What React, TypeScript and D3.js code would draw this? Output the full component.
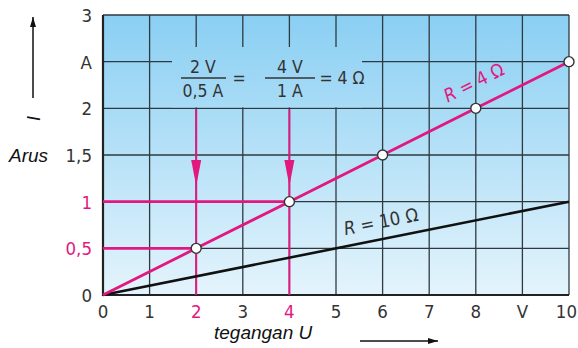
import * as d3 from "d3";
import { useRef, useEffect } from "react";

const xTicks = [0, 1, 2, 3, 4, 5, 6, 7, 8, 9, 10];
const xTickLabels = ["0", "1", "2", "3", "4", "5", "6", "7", "8", "V", "10"];
const yTicks = [0, 0.5, 1, 1.5, 2, 2.5, 3];
const yTickLabels = ["0", "0,5", "1", "1,5", "2", "A", "3"];
const pinkTicksX = [2, 4];
const pinkTicksY = [0.5, 1];

// R = 4 Ω measured points
const voltage4 = [0, 2, 4, 6, 8, 10];
const current4 = [0, 0.5, 1, 1.5, 2, 2.5];
// R = 10 Ω
const voltage10 = [0, 10];
const current10 = [0, 1];

const PINK = "#e0187f";
const GRID = "#2e3a40";
const TEXT = "#333";

export default function App() {
  const ref = useRef<SVGSVGElement>(null);

  useEffect(() => {
    const width = 578;
    const height = 348;
    const svg = d3.select(ref.current);
    svg.selectAll("*").remove();
    svg.attr("width", width).attr("height", height);

    const x = d3.scaleLinear().domain([0, 10]).range([103, 569]);
    const y = d3.scaleLinear().domain([0, 3]).range([295, 15]);

    const defs = svg.append("defs");
    const grad = defs
      .append("linearGradient")
      .attr("id", "bg")
      .attr("gradientUnits", "userSpaceOnUse")
      .attr("x1", 0)
      .attr("y1", y(3))
      .attr("x2", 0)
      .attr("y2", y(0));
    grad.append("stop").attr("offset", "0%").attr("stop-color", "#8acff3");
    grad.append("stop").attr("offset", "100%").attr("stop-color", "#e4f4fc");

    const arrow = defs
      .append("marker")
      .attr("id", "arr")
      .attr("viewBox", "0 0 10 10")
      .attr("refX", 10)
      .attr("refY", 5)
      .attr("markerWidth", 10)
      .attr("markerHeight", 10)
      .attr("markerUnits", "userSpaceOnUse")
      .attr("orient", "auto");
    arrow.append("path").attr("d", "M0,2 L10,5 L0,8 Z").attr("fill", "#111");

    const font = "'DejaVu Sans Condensed', 'DejaVu Sans', sans-serif";
    const fs = 18.5;

    svg
      .append("rect")
      .attr("x", x(0))
      .attr("y", y(3))
      .attr("width", x(10) - x(0))
      .attr("height", y(0) - y(3))
      .attr("fill", "url(#bg)");

    const grid = svg.append("g").attr("stroke", GRID).attr("stroke-width", 1.3);
    grid
      .selectAll("line.v")
      .data(xTicks.slice(1))
      .enter()
      .append("line")
      .attr("x1", (d) => x(d))
      .attr("x2", (d) => x(d))
      .attr("y1", y(3))
      .attr("y2", y(0));
    grid
      .selectAll("line.h")
      .data(yTicks.slice(1))
      .enter()
      .append("line")
      .attr("x1", x(0))
      .attr("x2", x(10))
      .attr("y1", (d) => y(d))
      .attr("y2", (d) => y(d));

    // box behind the formula hides the grid
    svg
      .append("rect")
      .attr("x", 172)
      .attr("y", 47)
      .attr("width", 190)
      .attr("height", y(2) - 47 - 1)
      .attr("fill", "url(#bg)");

    // axes
    svg
      .append("path")
      .attr("d", `M${x(0)},${y(3)} V${y(0)} H${x(10)}`)
      .attr("fill", "none")
      .attr("stroke", "#222")
      .attr("stroke-width", 2.2);

    // pink helper lines
    const pink = svg.append("g").attr("stroke", PINK).attr("stroke-width", 2.6);
    pink
      .selectAll("line.ph")
      .data(pinkTicksY)
      .enter()
      .append("line")
      .attr("x1", x(0))
      .attr("x2", (d, i) => x(pinkTicksX[i]))
      .attr("y1", (d) => y(d))
      .attr("y2", (d) => y(d));
    pink
      .selectAll("line.pv")
      .data(pinkTicksX)
      .enter()
      .append("line")
      .attr("x1", (d) => x(d))
      .attr("x2", (d) => x(d))
      .attr("y1", y(2) + 1)
      .attr("y2", y(0))
      .attr("stroke-width", 2);
    svg
      .append("g")
      .selectAll("path")
      .data(pinkTicksX)
      .enter()
      .append("path")
      .attr("d", (d) => `M${x(d) - 5},160 L${x(d) + 5},160 L${x(d)},186 Z`)
      .attr("fill", PINK);

    const line = d3
      .line<number>()
      .x((d) => x(d[0]))
      .y((d) => y(d[1]));

    svg
      .append("path")
      .datum(voltage10.map((v, i) => [v, current10[i]]))
      .attr("d", line as any)
      .attr("fill", "none")
      .attr("stroke", "#111")
      .attr("stroke-width", 2.6);

    svg
      .append("path")
      .datum(voltage4.map((v, i) => [v, current4[i]]))
      .attr("d", line as any)
      .attr("fill", "none")
      .attr("stroke", PINK)
      .attr("stroke-width", 2.8);

    svg
      .append("g")
      .selectAll("circle")
      .data(voltage4.slice(1).map((v, i) => [v, current4[i + 1]]))
      .enter()
      .append("circle")
      .attr("cx", (d) => x(d[0]))
      .attr("cy", (d) => y(d[1]))
      .attr("r", 5)
      .attr("fill", "#fff")
      .attr("stroke", "#333")
      .attr("stroke-width", 1.4);

    // tick labels
    svg
      .append("g")
      .selectAll("text")
      .data(yTicks)
      .enter()
      .append("text")
      .attr("x", 92)
      .attr("y", (d) => y(d) + 7)
      .attr("text-anchor", "end")
      .attr("font-family", font)
      .attr("font-size", fs)
      .attr("fill", (d) => (pinkTicksY.includes(d) ? PINK : TEXT))
      .text((d, i) => yTickLabels[i]);

    svg
      .append("g")
      .selectAll("text")
      .data(xTicks)
      .enter()
      .append("text")
      .attr("x", (d) => (d === 10 ? width - 1 : x(d)))
      .attr("y", 318)
      .attr("text-anchor", (d) => (d === 10 ? "end" : "middle"))
      .attr("font-family", font)
      .attr("font-size", fs)
      .attr("fill", (d) => (pinkTicksX.includes(d) ? PINK : TEXT))
      .text((d, i) => xTickLabels[i]);

    // axis titles
    const italic = "'Liberation Sans', Arial, sans-serif";
    svg
      .append("text")
      .attr("x", 9)
      .attr("y", 162)
      .attr("font-family", italic)
      .attr("font-style", "italic")
      .attr("font-size", 19)
      .attr("fill", "#111")
      .text("Arus");
    svg
      .append("text")
      .attr("x", 214)
      .attr("y", 339)
      .attr("font-family", italic)
      .attr("font-style", "italic")
      .attr("font-size", 19)
      .attr("fill", "#111")
      .text("tegangan U");
    svg
      .append("text")
      .attr("transform", "translate(40,121) rotate(-90)")
      .attr("font-family", italic)
      .attr("font-style", "italic")
      .attr("font-size", 18)
      .attr("fill", "#111")
      .text("I");

    svg
      .append("line")
      .attr("x1", 33)
      .attr("x2", 33)
      .attr("y1", 98)
      .attr("y2", 17)
      .attr("stroke", "#111")
      .attr("stroke-width", 1.5)
      .attr("marker-end", "url(#arr)");
    svg
      .append("line")
      .attr("x1", 360)
      .attr("x2", 438)
      .attr("y1", 341)
      .attr("y2", 341)
      .attr("stroke", "#111")
      .attr("stroke-width", 1.5)
      .attr("marker-end", "url(#arr)");

    // line labels
    const a4 = (Math.atan2(y(0) - y(2.5), x(10) - x(0)) * 180) / Math.PI;
    svg
      .append("text")
      .attr("transform", `translate(${x(7.4)},${y(2.06)}) rotate(${-a4})`)
      .attr("font-family", font)
      .attr("font-size", fs)
      .attr("fill", PINK)
      .html("<tspan font-style='italic'>R</tspan> = 4 Ω");
    const a10 = (Math.atan2(y(0) - y(1), x(10) - x(0)) * 180) / Math.PI;
    svg
      .append("text")
      .attr("transform", `translate(${x(5.2)},${y(0.64)}) rotate(${-a10})`)
      .attr("font-family", font)
      .attr("font-size", fs)
      .attr("fill", TEXT)
      .html("<tspan font-style='italic'>R</tspan> = 10 Ω");

    // formula
    const f = svg
      .append("g")
      .attr("font-family", font)
      .attr("font-size", 17.5)
      .attr("fill", TEXT)
      .attr("text-anchor", "middle");
    const barY = 78;
    f.append("text").attr("x", 203).attr("y", barY - 5).text("2 V");
    f.append("text").attr("x", 203).attr("y", barY + 19).text("0,5 A");
    f.append("text").attr("x", 239).attr("y", barY + 6).text("=");
    f.append("text").attr("x", 290).attr("y", barY - 5).text("4 V");
    f.append("text").attr("x", 290).attr("y", barY + 19).text("1 A");
    f.append("text").attr("x", 342).attr("y", barY + 6).text("= 4 Ω");
    svg
      .append("g")
      .attr("stroke", TEXT)
      .attr("stroke-width", 1.6)
      .selectAll("line")
      .data([[181, 226], [265, 315]])
      .enter()
      .append("line")
      .attr("x1", (d) => d[0])
      .attr("x2", (d) => d[1])
      .attr("y1", barY)
      .attr("y2", barY);
  }, []);

  return <svg ref={ref} style={{ position: "absolute", left: 0, top: 0 }}></svg>;
}
